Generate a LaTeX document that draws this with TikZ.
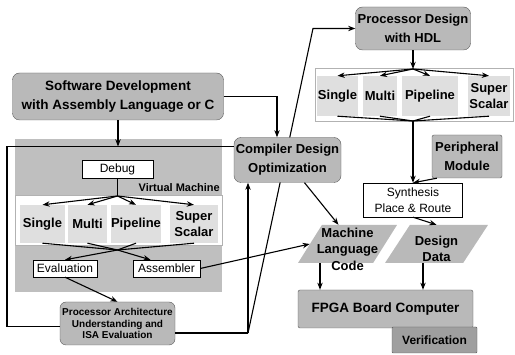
\documentclass[tikz,border=0pt]{standalone}
\usepackage{fontspec}
\setmainfont{Liberation Sans}
\usetikzlibrary{shapes.geometric, arrows.meta, positioning}

\begin{document}
\begin{tikzpicture}[
    x=1pt, y=-1pt,
    block/.style={rectangle, rounded corners=7pt, draw=gray!70!black, fill=gray!55, align=center, inner sep=0pt, font=\fontsize{13}{19}\selectfont\bfseries},
    tagbox/.style={rectangle, draw=black, fill=white, align=center, inner sep=0pt, font=\fontsize{12}{15.5}\selectfont},
    cell/.style={rectangle, fill=gray!25, align=center, inner sep=0pt, font=\fontsize{13}{16}\selectfont\bfseries},
    panel/.style={rectangle, draw=gray!60, fill=white, inner sep=0pt},
    datashape/.style={trapezium, trapezium left angle=65, trapezium right angle=115, trapezium stretches=true, fill=gray!55, inner sep=2pt},
    datatext/.style={align=center, inner sep=0pt, yshift=-5pt, font=\fontsize{13}{16.5}\selectfont\bfseries},
    arrow/.style={-{Stealth[scale=0.9]}, line width=1.1pt},
    wire/.style={line width=1.1pt}
]
    \useasboundingbox (0,0) rectangle (515,355);

    % left side: software and virtual machine
    \node[block, minimum width=211pt, minimum height=47pt, font=\fontsize{13.5}{19.5}\selectfont\bfseries] (sw) at (118,96.5) {Software Development\\with Assembly Language or C};
    \node[fill=gray!50, minimum width=207pt, minimum height=153pt, inner sep=0pt] (vm) at (118.5,215.5) {};
    \node[anchor=east, inner sep=1pt, font=\fontsize{11}{13}\selectfont\bfseries] (vmtag) at (221,188) {Virtual Machine};
    \node[tagbox, minimum width=71pt, minimum height=18pt] (dbg) at (117.5,169) {Debug};
    \node[panel, minimum width=207pt, minimum height=50pt] (lpanel) at (118.5,220) {};
    \node[cell, minimum width=45pt, minimum height=38pt] (ls) at (42.5,224) {Single};
    \node[cell, minimum width=39pt, minimum height=38pt] (lm) at (87.5,224) {Multi};
    \node[cell, minimum width=48pt, minimum height=38pt] (lp) at (136,224) {Pipeline};
    \node[cell, minimum width=48pt, minimum height=38pt] (lss) at (194,224) {Super\\Scalar};
    \node[tagbox, minimum width=64pt, minimum height=17pt] (eval) at (65,268.5) {Evaluation};
    \node[tagbox, minimum width=67pt, minimum height=17pt] (asm) at (166.5,268.5) {Assembler};
    \node[block, rounded corners=6pt, minimum width=115pt, minimum height=43pt, font=\fontsize{10}{11.5}\selectfont\bfseries] (pa) at (117.5,323.5) {Processor Architecture\\Understanding and\\ISA Evaluation};

    \coordinate (loopTL) at (7,146.5);
    \coordinate (fanL) at (117.5,196);
    \coordinate (cvL) at (117.5,250);
    \draw[arrow] (sw.south) -- (sw.south |- loopTL);
    \draw[wire] (dbg.south) -- (fanL);
    \foreach \c in {ls, lm, lp, lss} {
        \draw[arrow] (fanL) -- (\c.north);
        \draw[wire] (\c.south) -- (cvL);
    }
    \draw[arrow] (cvL) -- (eval.north);
    \draw[arrow] (cvL) -- ([xshift=-16pt]asm.north);
    \draw[arrow] (eval.south) -- (pa.north);

    % right side: hardware design
    \node[block, minimum width=115pt, minimum height=43pt] (pd) at (413,28.5) {Processor Design\\with HDL};
    \coordinate (hub) at (248,333);
    \coordinate (bend) at (313,28.5);
    \draw[arrow] (hub) -- (bend) -- (pd.west);

    \node[block, minimum width=107pt, minimum height=45pt] (cmp) at (287.5,160) {Compiler Design\\Optimization};
    \draw[wire] ([yshift=-3pt]pa.west) -| (loopTL) -- (cmp.west |- loopTL);
    \draw[arrow] (sw.east) -| ([xshift=-10.5pt]cmp.north);
    \draw[wire] ([yshift=-9.5pt]pa.east) -- (hub);
    \draw[arrow] (hub) -- (hub |- cmp.south);

    \node[panel, minimum width=198pt, minimum height=53pt] (rpanel) at (414,94.5) {};
    \node[cell, minimum width=41pt, minimum height=40pt] (rs) at (337.5,96) {Single};
    \node[cell, minimum width=34pt, minimum height=40pt] (rm) at (380,96) {Multi};
    \node[cell, minimum width=56pt, minimum height=40pt] (rp) at (430,96) {Pipeline};
    \node[cell, minimum width=42pt, minimum height=40pt] (rss) at (489,96) {Super\\Scalar};
    \coordinate (fanR) at (413,69);
    \coordinate (cvR) at (413,121);
    \draw[arrow] (pd.south) -- (fanR);
    \foreach \c in {rs, rm, rp, rss} {
        \draw[arrow] (fanR) -- (\c.north);
        \draw[wire] (\c.south) -- (cvR);
    }

    \node[tagbox, minimum width=99pt, minimum height=34pt] (syn) at (413,200) {Synthesis\\Place \& Route};
    \node[block, rounded corners=2pt, minimum width=70pt, minimum height=43pt] (peri) at (467,156.5) {Peripheral\\Module};
    \draw[arrow] (cvR) -- (syn.north);
    \draw[arrow] ([xshift=5pt]peri.south west) -- (syn.north);

    \node[datashape, minimum width=99pt, minimum height=38pt, label={[datatext]center:Machine\\Language\\Code}] (mlc) at (347.5,244) {};
    \node[datashape, minimum width=103pt, minimum height=38pt, label={[datatext]center:Design\\Data}] (dd) at (436.5,244) {};
    \node[block, rounded corners=2pt, minimum width=175pt, minimum height=38pt, font=\fontsize{13.5}{16}\selectfont\bfseries] (fpga) at (385.5,309) {FPGA Board Computer};
    \node[block, rounded corners=1pt, fill=gray!75, minimum width=85pt, minimum height=26pt, font=\fontsize{12}{14}\selectfont\bfseries] (ver) at (434.5,340) {Verification};

    \draw[arrow] (asm.east) -- (mlc.west);
    \draw[arrow] ([xshift=17pt]cmp.south) -- ([xshift=-9pt]mlc.north);
    \draw[arrow] (syn.south) -- (dd.north);
    \draw[arrow] ([xshift=-27.5pt]mlc.south) -- ([xshift=-27.5pt]mlc.south |- fpga.north);
    \draw[arrow] ([xshift=-13.5pt]dd.south) -- ([xshift=-13.5pt]dd.south |- fpga.north);
\end{tikzpicture}
\end{document}
